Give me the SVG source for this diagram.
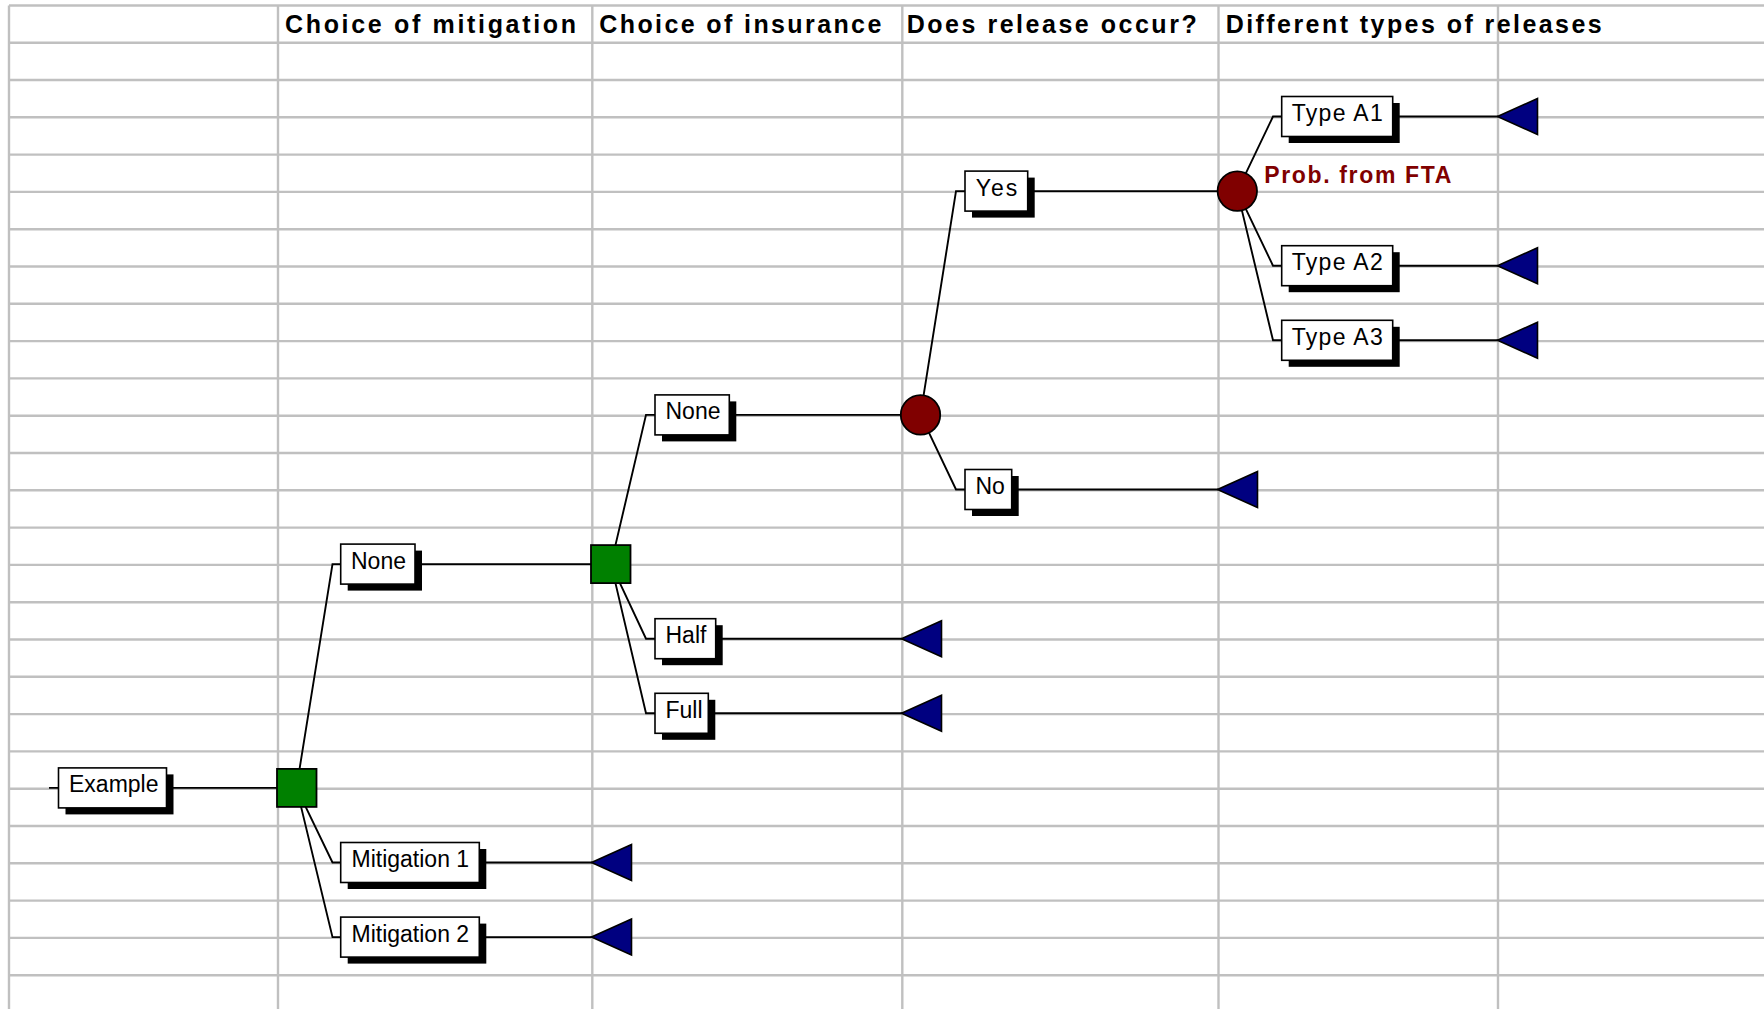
<svg xmlns="http://www.w3.org/2000/svg" width="1764" height="1009" viewBox="0 0 1764 1009">
  <defs>
    <style>
      .grid line { stroke: #c0c0c0; stroke-width: 2.4; }
      .hdr { font-family: "Liberation Sans", Arial, sans-serif; font-weight: bold; font-size: 25px; fill: #000; }
      .lbl { font-family: "Liberation Sans", Arial, sans-serif; font-size: 23px; fill: #000; }
      .note { font-family: "Liberation Sans", Arial, sans-serif; font-weight: bold; font-size: 23px; fill: #800000; }
      .conn path { stroke: #000; stroke-width: 1.9; fill: none; }
      .sh { fill: #000; }
      .bg { fill: #fff; stroke: #000; stroke-width: 1.6; }
      .dec { fill: #008000; stroke: #000; stroke-width: 1.8; }
      .chance { fill: #800000; stroke: #000; stroke-width: 1.8; }
      .end { fill: #000080; stroke: #000; stroke-width: 1.6; stroke-linejoin: miter; }
    </style>
  </defs>

  <rect width="1764" height="1009" fill="#fff"/>

  <!-- spreadsheet grid -->
  <g class="grid">
    <line x1="9" y1="5.5" x2="1764" y2="5.5"/>
    <line x1="9" y1="42.7" x2="1764" y2="42.7"/>
    <line x1="9" y1="80" x2="1764" y2="80"/>
    <line x1="9" y1="117.3" x2="1764" y2="117.3"/>
    <line x1="9" y1="154.6" x2="1764" y2="154.6"/>
    <line x1="9" y1="191.9" x2="1764" y2="191.9"/>
    <line x1="9" y1="229.2" x2="1764" y2="229.2"/>
    <line x1="9" y1="266.5" x2="1764" y2="266.5"/>
    <line x1="9" y1="303.8" x2="1764" y2="303.8"/>
    <line x1="9" y1="341.1" x2="1764" y2="341.1"/>
    <line x1="9" y1="378.4" x2="1764" y2="378.4"/>
    <line x1="9" y1="415.7" x2="1764" y2="415.7"/>
    <line x1="9" y1="453" x2="1764" y2="453"/>
    <line x1="9" y1="490.3" x2="1764" y2="490.3"/>
    <line x1="9" y1="527.6" x2="1764" y2="527.6"/>
    <line x1="9" y1="564.9" x2="1764" y2="564.9"/>
    <line x1="9" y1="602.2" x2="1764" y2="602.2"/>
    <line x1="9" y1="639.5" x2="1764" y2="639.5"/>
    <line x1="9" y1="676.8" x2="1764" y2="676.8"/>
    <line x1="9" y1="714.1" x2="1764" y2="714.1"/>
    <line x1="9" y1="751.4" x2="1764" y2="751.4"/>
    <line x1="9" y1="788.7" x2="1764" y2="788.7"/>
    <line x1="9" y1="826" x2="1764" y2="826"/>
    <line x1="9" y1="863.3" x2="1764" y2="863.3"/>
    <line x1="9" y1="900.6" x2="1764" y2="900.6"/>
    <line x1="9" y1="937.9" x2="1764" y2="937.9"/>
    <line x1="9" y1="975.2" x2="1764" y2="975.2"/>
    <line x1="9" y1="5.5" x2="9" y2="1009"/>
    <line x1="278" y1="5.5" x2="278" y2="1009"/>
    <line x1="592.3" y1="5.5" x2="592.3" y2="1009"/>
    <line x1="902.3" y1="5.5" x2="902.3" y2="1009"/>
    <line x1="1218.5" y1="5.5" x2="1218.5" y2="1009"/>
    <line x1="1498" y1="5.5" x2="1498" y2="1009"/>
  </g>

  <!-- column headings -->
  <g id="headers">
    <text class="hdr" x="285" y="33" textLength="291" lengthAdjust="spacing">Choice of mitigation</text>
    <text class="hdr" x="599.3" y="33" textLength="282" lengthAdjust="spacing">Choice of insurance</text>
    <text class="hdr" x="906.7" y="33" textLength="290" lengthAdjust="spacing">Does release occur?</text>
    <text class="hdr" x="1225.7" y="33" textLength="376" lengthAdjust="spacing">Different types of releases</text>
  </g>

  <!-- connectors -->
  <g id="connectors" class="conn">
    <path d="M49,787.9 H296.5"/>
    <path d="M296.5,787.9 L332.5,564.1 H611"/>
    <path d="M296.5,787.9 L332.5,862.5 H592"/>
    <path d="M296.5,787.9 L332.5,937.1 H592"/>
    <path d="M611,564.1 L646,414.9 H920.5"/>
    <path d="M611,564.1 L646,638.7 H902"/>
    <path d="M611,564.1 L646,713.3 H902"/>
    <path d="M920.5,414.9 L956,191.1 H1237.3"/>
    <path d="M920.5,414.9 L956,489.5 H1218"/>
    <path d="M1237.3,191.1 L1273,116.5 H1498"/>
    <path d="M1237.3,191.1 L1273,265.7 H1498"/>
    <path d="M1237.3,191.1 L1273,340.3 H1498"/>
  </g>

  <!-- root -->
  <g id="example">
    <rect class="sh" x="65.5" y="774.4" width="108" height="40"/>
    <rect class="bg" x="58.5" y="767.9" width="108" height="40"/>
    <text class="lbl" x="69" y="792.4">Example</text>
  </g>

  <!-- decision: mitigation -->
  <g id="decision-mitigation">
    <rect class="dec" x="277" y="768.9" width="39.5" height="38"/>
  </g>
  <g id="mit-none">
    <rect class="sh" x="347.7" y="550.6" width="74.3" height="40"/>
    <rect class="bg" x="340.7" y="544.1" width="74.3" height="40"/>
    <text class="lbl" x="351" y="568.6">None</text>
  </g>
  <g id="mit-1">
    <rect class="sh" x="347.7" y="849" width="138.6" height="40"/>
    <rect class="bg" x="340.7" y="842.5" width="138.6" height="40"/>
    <text class="lbl" x="351.5" y="867">Mitigation 1</text>
  </g>
  <g id="mit-2">
    <rect class="sh" x="347.7" y="923.6" width="138.6" height="40"/>
    <rect class="bg" x="340.7" y="917.1" width="138.6" height="40"/>
    <text class="lbl" x="351.5" y="941.6">Mitigation 2</text>
  </g>
  <g id="end-mit-1"><polygon class="end" points="591.5,862.5 631.5,844.5 631.5,880.5"/></g>
  <g id="end-mit-2"><polygon class="end" points="591.5,937.1 631.5,919.1 631.5,955.1"/></g>

  <!-- decision: insurance -->
  <g id="decision-insurance">
    <rect class="dec" x="591" y="545.1" width="39.5" height="38"/>
  </g>
  <g id="ins-none">
    <rect class="sh" x="662" y="401.4" width="74.3" height="40"/>
    <rect class="bg" x="655" y="394.9" width="74.3" height="40"/>
    <text class="lbl" x="665.5" y="419.4">None</text>
  </g>
  <g id="ins-half">
    <rect class="sh" x="662" y="625.2" width="60.7" height="40"/>
    <rect class="bg" x="655" y="618.7" width="60.7" height="40"/>
    <text class="lbl" x="665.5" y="643.2">Half</text>
  </g>
  <g id="ins-full">
    <rect class="sh" x="662" y="699.8" width="53.3" height="40"/>
    <rect class="bg" x="655" y="693.3" width="53.3" height="40"/>
    <text class="lbl" x="665.5" y="717.8">Full</text>
  </g>
  <g id="end-half"><polygon class="end" points="901.5,638.7 941.5,620.7 941.5,656.7"/></g>
  <g id="end-full"><polygon class="end" points="901.5,713.3 941.5,695.3 941.5,731.3"/></g>

  <!-- chance: release -->
  <g id="chance-release">
    <circle class="chance" cx="920.5" cy="414.9" r="19.7"/>
  </g>
  <g id="rel-yes">
    <rect class="sh" x="972" y="177.6" width="62.7" height="40"/>
    <rect class="bg" x="965" y="171.1" width="62.7" height="40"/>
    <text class="lbl" x="975.7" y="195.6" textLength="41.6" lengthAdjust="spacing">Yes</text>
  </g>
  <g id="rel-no">
    <rect class="sh" x="972" y="476" width="46.7" height="40"/>
    <rect class="bg" x="965" y="469.5" width="46.7" height="40"/>
    <text class="lbl" x="975.5" y="494">No</text>
  </g>
  <g id="end-no"><polygon class="end" points="1217.5,489.5 1257.5,471.5 1257.5,507.5"/></g>

  <!-- chance: release type -->
  <g id="chance-type">
    <circle class="chance" cx="1237.3" cy="191.1" r="19.7"/>
    <text class="note" x="1264.3" y="183.3" textLength="187" lengthAdjust="spacing">Prob. from FTA</text>
  </g>
  <g id="type-a1">
    <rect class="sh" x="1288.7" y="103" width="111" height="40"/>
    <rect class="bg" x="1281.7" y="96.5" width="111" height="40"/>
    <text class="lbl" x="1291.7" y="121" textLength="91" lengthAdjust="spacing">Type A1</text>
  </g>
  <g id="type-a2">
    <rect class="sh" x="1288.7" y="252.2" width="111" height="40"/>
    <rect class="bg" x="1281.7" y="245.7" width="111" height="40"/>
    <text class="lbl" x="1291.7" y="270.2" textLength="91" lengthAdjust="spacing">Type A2</text>
  </g>
  <g id="type-a3">
    <rect class="sh" x="1288.7" y="326.8" width="111" height="40"/>
    <rect class="bg" x="1281.7" y="320.3" width="111" height="40"/>
    <text class="lbl" x="1291.7" y="344.8" textLength="91" lengthAdjust="spacing">Type A3</text>
  </g>
  <g id="end-a1"><polygon class="end" points="1497.5,116.5 1537.5,98.5 1537.5,134.5"/></g>
  <g id="end-a2"><polygon class="end" points="1497.5,265.7 1537.5,247.7 1537.5,283.7"/></g>
  <g id="end-a3"><polygon class="end" points="1497.5,340.3 1537.5,322.3 1537.5,358.3"/></g>
</svg>
